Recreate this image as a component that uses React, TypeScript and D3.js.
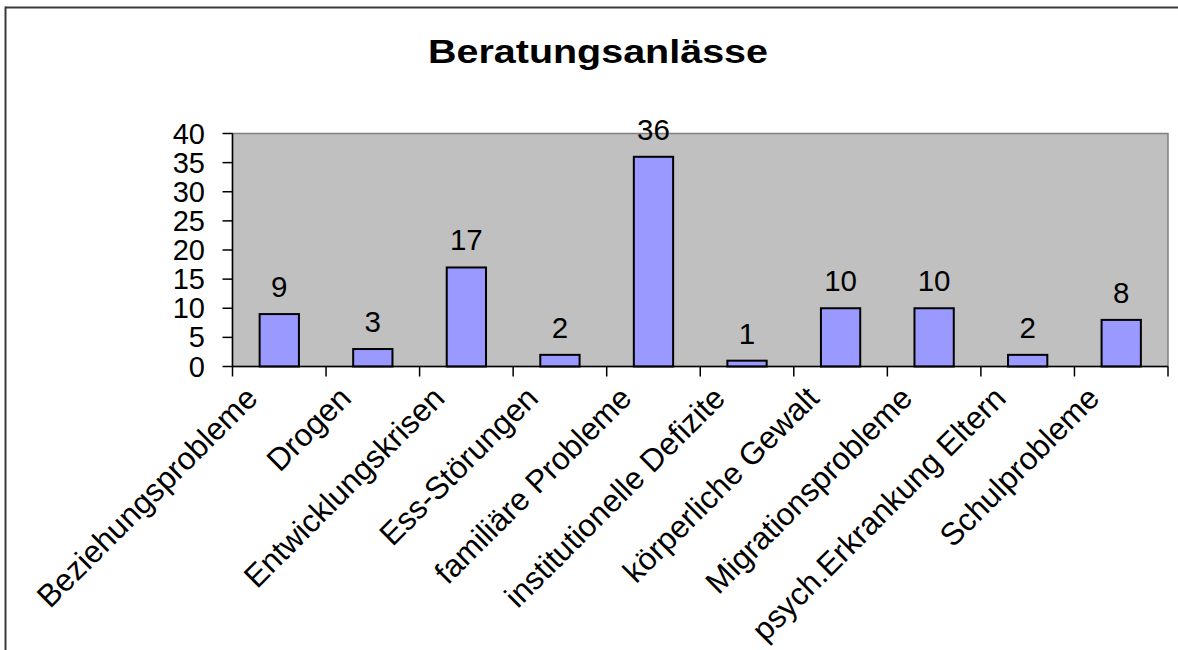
import React from "react";
import * as d3 from "d3";

const title = "Beratungsanlässe";
const categories = [
  "Beziehungsprobleme",
  "Drogen",
  "Entwicklungskrisen",
  "Ess-Störungen",
  "familiäre Probleme",
  "institutionelle Defizite",
  "körperliche Gewalt",
  "Migrationsprobleme",
  "psych.Erkrankung Eltern",
  "Schulprobleme",
];
const values = [9, 3, 17, 2, 36, 1, 10, 10, 2, 8];
const yTicks = [0, 5, 10, 15, 20, 25, 30, 35, 40];

const W = 1178;
const H = 650;
const plot = { left: 232.5, right: 1168, top: 133.5, bottom: 366.5 };
const FONT = "Arial, 'Liberation Sans', Helvetica, sans-serif";

export default function App() {
  const x = d3
    .scaleBand<string>()
    .domain(categories)
    .range([plot.left, plot.right])
    .paddingInner(0)
    .paddingOuter(0);
  const y = d3.scaleLinear().domain([0, 40]).range([plot.bottom, plot.top]);
  const bw = x.bandwidth();
  const barW = bw * 0.42;
  const boundaries = categories.map((c) => x(c) as number).concat([plot.right]);

  return (
    <svg
      width={W}
      height={H}
      style={{ position: "absolute", left: 0, top: 0, background: "#fff" }}
      fontFamily={FONT}
    >
      <rect x={0} y={0} width={W} height={H} fill="#fff" />
      {/* outer border */}
      <line x1={5.5} x2={W} y1={7.5} y2={7.5} stroke="#3a3a3a" strokeWidth={2} />
      <line x1={5.5} x2={5.5} y1={6.5} y2={H} stroke="#3a3a3a" strokeWidth={2} />
      {/* title */}
      <text
        x={598}
        y={62.5}
        textAnchor="middle"
        fontSize={32.5}
        fontWeight="bold"
        fill="#000"
        textLength={340}
        lengthAdjust="spacingAndGlyphs"
      >
        {title}
      </text>
      {/* plot area */}
      <rect
        x={plot.left}
        y={plot.top}
        width={plot.right - plot.left}
        height={plot.bottom - plot.top}
        fill="#c0c0c0"
        stroke="#808080"
        strokeWidth={1.5}
      />
      {/* bars */}
      {categories.map((c, i) => {
        const cx = (x(c) as number) + bw / 2;
        return (
          <rect
            key={c}
            x={cx - barW / 2}
            y={y(values[i])}
            width={barW}
            height={plot.bottom - y(values[i])}
            fill="#9999ff"
            stroke="#000"
            strokeWidth={2}
          />
        );
      })}
      {/* value labels */}
      {categories.map((c, i) => {
        const cx = (x(c) as number) + bw / 2;
        return (
          <text key={c} x={cx} y={y(values[i]) - 17} textAnchor="middle" fontSize={29.5} fill="#000">
            {values[i]}
          </text>
        );
      })}
      {/* y axis */}
      <line x1={plot.left} x2={plot.left} y1={plot.top} y2={plot.bottom} stroke="#000" strokeWidth={1.5} />
      {yTicks.map((t) => (
        <g key={t}>
          <line x1={plot.left - 10} x2={plot.left} y1={y(t)} y2={y(t)} stroke="#000" strokeWidth={1.5} />
          <text x={205} y={y(t) + 10} textAnchor="end" fontSize={29} fill="#000">
            {t}
          </text>
        </g>
      ))}
      {/* x axis */}
      <line x1={plot.left} x2={plot.right} y1={plot.bottom} y2={plot.bottom} stroke="#000" strokeWidth={1.5} />
      {boundaries.map((b, i) => (
        <line key={i} x1={b} x2={b} y1={plot.bottom} y2={plot.bottom + 10} stroke="#000" strokeWidth={1.5} />
      ))}
      {categories.map((c) => {
        const cx = (x(c) as number) + bw / 2;
        const ax = cx - 20;
        const ay = 400;
        return (
          <text
            key={c}
            x={ax}
            y={ay}
            textAnchor="end"
            fontSize={31.5}
            fill="#000"
            transform={`rotate(-45 ${ax} ${ay})`}
          >
            {c}
          </text>
        );
      })}
    </svg>
  );
}
